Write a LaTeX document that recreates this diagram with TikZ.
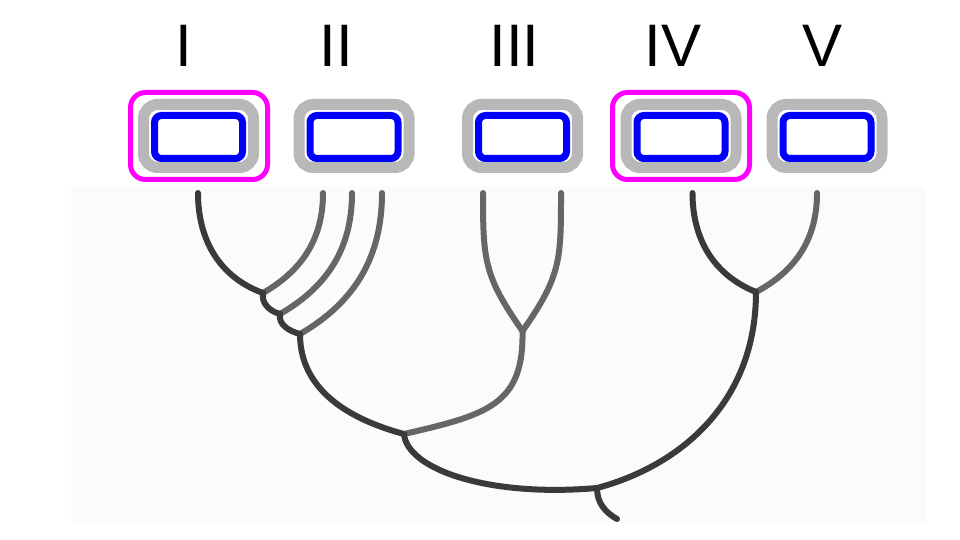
\documentclass[tikz,border=0pt]{standalone}
\usepackage{fontspec}
\setmainfont{Liberation Sans}
\definecolor{dkgray}{HTML}{3A3A3A}
\definecolor{ltgray}{HTML}{666666}
\definecolor{boxgray}{HTML}{B8B8B8}
\definecolor{bgcol}{HTML}{FBFBFB}
\definecolor{selmag}{HTML}{FF00FF}
\definecolor{boxblue}{HTML}{0000FF}
\begin{document}
\begin{tikzpicture}[x=1pt,y=1pt,
  dk/.style={draw=dkgray, line width=6pt, line cap=round},
  lt/.style={draw=ltgray, line width=6pt, line cap=round},
  lab/.style={font=\fontsize{60}{60}\selectfont, anchor=base, inner sep=0pt},
  outerbox/.style={draw=boxgray, line width=11pt, rounded corners=14pt, minimum width=110pt, minimum height=63pt, inner sep=0pt, fill=white},
  innerbox/.style={draw=boxblue, line width=7pt, rounded corners=7pt, minimum width=88pt, minimum height=43pt, inner sep=0pt, fill=white},
  selbox/.style={draw=selmag, line width=5pt, rounded corners=15pt, minimum width=137pt, minimum height=87pt, inner sep=0pt}]
\useasboundingbox (0,0) rectangle (960,-540);
\fill[bgcol] (71,-186) rectangle (925.5,-522.5);

% labels
\node[lab] (tI)   at (183.5,-67) {I};
\node[lab] (tII)  at (336,-67) {II};
\node[lab] (tIII) at (514.5,-67) {III};
\node[lab] (tIV)  at (673,-67) {IV};
\node[lab] (tV)   at (822,-67) {V};

% selection frames
\node[selbox] (sI)  at (199,-136) {};
\node[selbox] (sIV) at (681,-136) {};

% boxes
\foreach \n/\x in {I/198.5, II/354, III/522.5, IV/681, V/827}{
  \node[outerbox] (o\n) at (\x,-136) {};
  \node[innerbox] (b\n) at (\x,-137) {};
}

% tree points
\coordinate (lI)    at (198,-193);
\coordinate (lIIa)  at (323,-193);
\coordinate (lIIb)  at (352,-193);
\coordinate (lIIc)  at (382,-193);
\coordinate (lIIIa) at (483,-193);
\coordinate (lIIIb) at (561,-193);
\coordinate (lIV)   at (692.5,-193);
\coordinate (lV)    at (817,-193);
\coordinate (n1)    at (263,-293);
\coordinate (n2)    at (280,-314);
\coordinate (n3)    at (300,-334);
\coordinate (n4)    at (522.5,-331);
\coordinate (n5)    at (404,-434);
\coordinate (n6)    at (756,-292);
\coordinate (root)  at (597,-488);
\coordinate (rend)  at (617,-519);

% light edges first
\draw[lt] (lIIa) to[out=-90,in=30] (n1);
\draw[lt] (lIIb) to[out=-90,in=30] (n2);
\draw[lt] (lIIc) to[out=-90,in=30] (n3);
\draw[lt] (lIIIa) to[out=-90,in=125,looseness=1.2] (n4);
\draw[lt] (lIIIb) to[out=-90,in=55,looseness=1.2] (n4);
\draw[lt] (n4) to[out=-89,in=13,out looseness=1.2,in looseness=1.4] (n5);
\draw[lt] (lV) to[out=-90,in=28] (n6);

% dark edges
\draw[dk] (lI) to[out=-90,in=160] (n1);
\draw[dk] (n1) to[out=-100,in=165] (n2);
\draw[dk] (n2) to[out=-100,in=165] (n3);
\draw[dk] (n3) to[out=-90,in=165] (n5);
\draw[dk] (lIV) to[out=-90,in=158] (n6);
\draw[dk] (n5) to[out=-85,in=185,out looseness=0.45,in looseness=1.4] (root);
\draw[dk] (n6) to[out=-90,in=15,out looseness=1.1,in looseness=0.9] (root);
\draw[dk] (root) to[out=-90,in=150] (rend);
\end{tikzpicture}
\end{document}
